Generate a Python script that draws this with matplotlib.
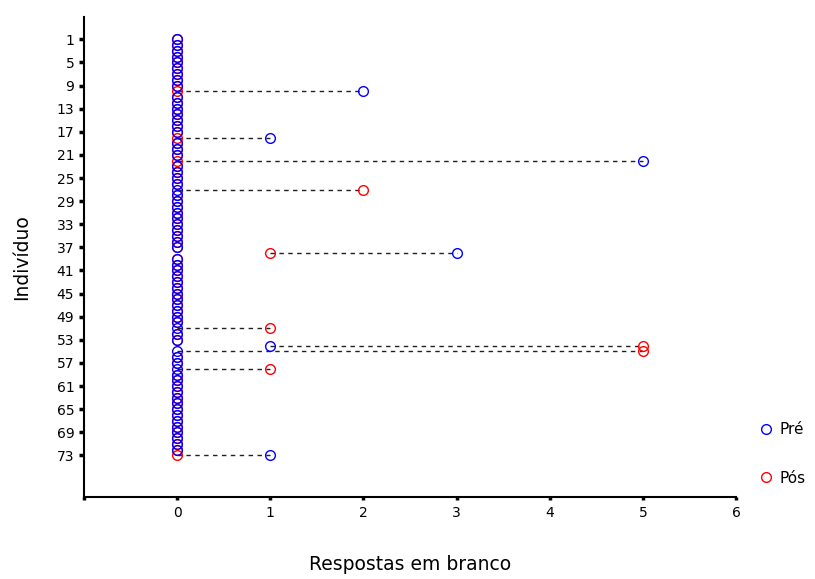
import matplotlib
matplotlib.use("Agg")
import matplotlib.pyplot as plt
import numpy as np

plt.rcParams['font.family'] = ['DejaVu Sans']

# individual number 1..73
individuo = list(range(1, 74))

# blank answers before (Pré) and after (Pós)
pre = [0, 0, 0, 0, 0, 0, 0, 0, 0, 2,
       0, 0, 0, 0, 0, 0, 0, 1, 0, 0,
       0, 5, 0, 0, 0, 0, 0, 0, 0, 0,
       0, 0, 0, 0, 0, 0, 0, 3, 0, 0,
       0, 0, 0, 0, 0, 0, 0, 0, 0, 0,
       0, 0, 0, 1, 0, 0, 0, 0, 0, 0,
       0, 0, 0, 0, 0, 0, 0, 0, 0, 0,
       0, 0, 1]
pos = [0, 0, 0, 0, 0, 0, 0, 0, 0, 0,
       0, 0, 0, 0, 0, 0, 0, 0, 0, 0,
       0, 0, 0, 0, 0, 0, 2, 0, 0, 0,
       0, 0, 0, 0, 0, 0, 0, 1, 0, 0,
       0, 0, 0, 0, 0, 0, 0, 0, 0, 0,
       1, 0, 0, 5, 5, 0, 0, 1, 0, 0,
       0, 0, 0, 0, 0, 0, 0, 0, 0, 0,
       0, 0, 0]

ytick_vals = list(range(1, 74, 4))
xtick_vals = [-1, 0, 1, 2, 3, 4, 5, 6]
xtick_labels = ['', '0', '1', '2', '3', '4', '5', '6']

fig = plt.figure(figsize=(8.15, 5.79), dpi=100)
ax = fig.add_axes([0.1031, 0.1416, 0.8, 0.829])

y = np.array(individuo)
pre_a = np.array(pre)
pos_a = np.array(pos)

# dashed connectors between the two measurements
ax.hlines(y, np.minimum(pre_a, pos_a), np.maximum(pre_a, pos_a),
          colors='#202020', linestyles=(0, (3.2, 3.2)), linewidth=1.0, zorder=1)

# Pós drawn first so the Pré column sits on top
ax.plot(pos_a, y, 'o', mfc='none', mec='#ff0000', ms=7, mew=1, ls='none',
        label='Pós', zorder=2)
ax.plot(pre_a, y, 'o', mfc='none', mec='#0000ff', ms=7, mew=1, ls='none',
        label='Pré', zorder=3)

ax.set_xlim(-1, 6)
ax.set_ylim(80.2, -2.86)
ax.set_xticks(xtick_vals)
ax.set_xticklabels(xtick_labels)
ax.set_yticks(ytick_vals)

for s in ['top', 'right']:
    ax.spines[s].set_visible(False)
for s in ['left', 'bottom']:
    ax.spines[s].set_linewidth(1.5)

ax.tick_params(axis='y', direction='out', length=3.5, width=2.5, pad=3.5,
               labelsize=10)
ax.tick_params(axis='x', direction='out', length=2.5, width=2.5, pad=4,
               labelsize=10)

ax.set_xlabel('Respostas em branco', fontsize=13.5, labelpad=25)
ax.set_ylabel('Indivíduo', fontsize=13.5, labelpad=18)

handles, labels = ax.get_legend_handles_labels()
fig.legend(handles[::-1], labels[::-1], loc='upper left',
           bbox_to_anchor=(752 / 815, 1 - 416 / 579),
           frameon=False, fontsize=11, labelspacing=2.2, handlelength=1.0,
           handletextpad=0.4, borderaxespad=0)

fig.savefig('out.png', dpi=100)
